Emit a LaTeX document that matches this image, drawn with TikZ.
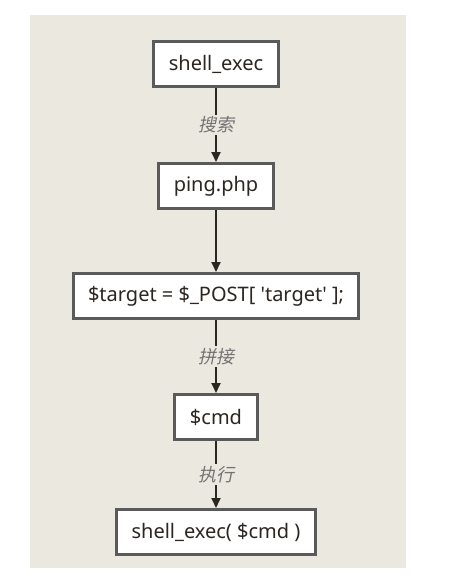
\documentclass[tikz,border=0pt]{standalone}
\usepackage{fontspec}
\setmainfont{Noto Sans}
\newfontfamily\cjk[FakeSlant=0.2]{Noto Sans CJK SC}
\usetikzlibrary{arrows.meta}
\usetikzlibrary{positioning}
\definecolor{paper}{HTML}{EAE8DF}
\definecolor{frame}{HTML}{5A5A5A}
\definecolor{ink}{HTML}{2B2620}

\begin{document}
\begin{tikzpicture}[x=1pt,y=-1pt,font=\fontsize{20}{24}\selectfont]
  \tikzset{block/.style={rectangle, draw=frame, line width=3pt,
      fill=white, text=ink,
      minimum height=45pt,
      inner xsep=15pt}}
  \tikzset{flow/.style={-{Triangle[length=10pt,width=9pt]},
      line width=1.8pt, draw=ink}}
  \tikzset{verb/.style={fill=paper, text=black!55, inner sep=2pt,
      font=\cjk\fontsize{18}{21}\selectfont}}
  \useasboundingbox (0,0) rectangle (468,578);
  \fill[paper] (30,15) rectangle (406,568);
  \node[block] (shellexec) at (216,64) {shell\_exec};
  \node[block] (ping) [below=74pt of shellexec] {ping.php};
  \node[block] (target) [below=62pt of ping]
    {\$target = \$\_POST[ \textquotesingle target\textquotesingle\ ];};
  \node[block] (cmd) [below=73pt of target] {\$cmd};
  \node[block] (run) [below=67pt of cmd] {shell\_exec( \$cmd )};
  \draw[flow] (shellexec) -- node[midway,verb]{搜索} (ping);
  \draw[flow] (ping) -- (target);
  \draw[flow] (target) -- node[midway,verb]{拼接} (cmd);
  \draw[flow] (cmd) -- node[midway,verb]{执行} (run);
\end{tikzpicture}
\end{document}
